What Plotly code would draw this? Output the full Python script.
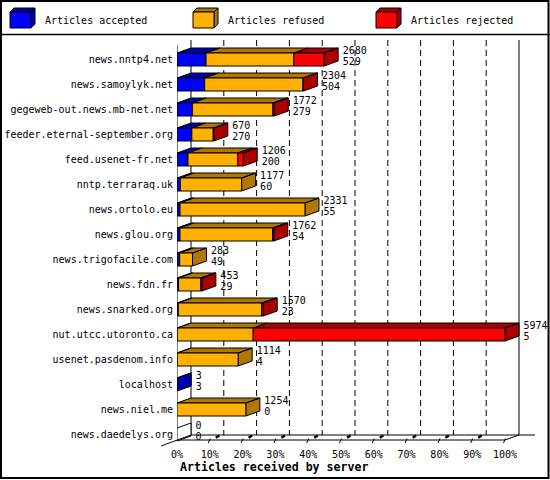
import plotly.graph_objects as go

# ---------------- data ----------------
servers = ["news.nntp4.net", "news.samoylyk.net", "gegeweb-out.news.mb-net.net",
           "feeder.eternal-september.org", "feed.usenet-fr.net", "nntp.terraraq.uk",
           "news.ortolo.eu", "news.glou.org", "news.trigofacile.com", "news.fdn.fr",
           "news.snarked.org", "nut.utcc.utoronto.ca", "usenet.pasdenom.info",
           "localhost", "news.niel.me", "news.daedelys.org"]
accepted = [529, 504, 279, 270, 200, 60, 55, 54, 49, 29, 23, 5, 4, 3, 0, 0]
refused = [1600, 1790, 1468, 390, 906, 1117, 2276, 1688, 234, 404, 1522, 1382, 1110, 0, 1254, 0]
rejected = [551, 10, 25, 10, 100, 0, 0, 20, 0, 20, 25, 4587, 0, 0, 0, 0]
x_ticks = [0, 10, 20, 30, 40, 50, 60, 70, 80, 90, 100]
x_tick_labels = ["0%", "10%", "20%", "30%", "40%", "50%", "60%", "70%", "80%", "90%", "100%"]
legend_names = ["Articles accepted", "Articles refused", "Articles rejected"]
axis_title = "Articles received by server"

# ---------------- style ----------------
FRONT = ["#0000FF", "#FFB000", "#FF0000"]
DARK = ["#0000AA", "#B07800", "#AA0000"]
FONT = "DejaVu Sans Mono"

W, H = 550, 480
PL, PR, PT, PB = 177, 540, 40, 447      # plot area in pixels
X_PER_PCT = 3.28                          # pixels per percent
ROW0, ROW_STEP = 59.5, 25.0               # pixel centre of first row, row spacing

def xd(p):   # pixel x -> data x
    return (p - PL) / X_PER_PCT

def yd(p):   # pixel y -> data y
    return (p - ROW0) / ROW_STEP

def pxp(p):  # pixel x -> paper
    return (p - PL) / (PR - PL)

def pyp(p):  # pixel y -> paper
    return (PB - p) / (PB - PT)

DX = 14 / X_PER_PCT
DY = -5 / ROW_STEP
HH = 6.5 / ROW_STEP
LABEL_GAP = 4.5 / X_PER_PCT

totals = [a + r + j for a, r, j in zip(accepted, refused, rejected)]
max_total = max(totals)

front_x = [[], [], []]
front_y = [[], [], []]
dark_x = [[], [], []]
dark_y = [[], [], []]
empty_x, empty_y = [], []
end_pos = []

def add_poly(xs, ys, px, py):
    xs.extend(px + [px[0], None])
    ys.extend(py + [py[0], None])

for i in range(len(servers)):
    vals = [accepted[i], refused[i], rejected[i]]
    p = 0.0
    last = None
    for k, v in enumerate(vals):
        if v <= 0:
            continue
        p1 = p + v / max_total * 100
        yt, yb = i - HH, i + HH
        add_poly(front_x[k], front_y[k], [p, p1, p1, p], [yt, yt, yb, yb])
        add_poly(dark_x[k], dark_y[k], [p, p1, p1 + DX, p + DX], [yt, yt, yt + DY, yt + DY])
        p = p1
        last = k
    yt, yb = i - HH, i + HH
    side_px = [p, p + DX, p + DX, p]
    side_py = [yt, yt + DY, yb + DY, yb]
    if last is None:
        add_poly(empty_x, empty_y, side_px, side_py)
    else:
        add_poly(dark_x[last], dark_y[last], side_px, side_py)
    end_pos.append(p + DX + LABEL_GAP)

fig = go.Figure()
for k in range(3):
    fig.add_trace(go.Scatter(x=dark_x[k], y=dark_y[k], mode="lines", fill="toself",
                             fillcolor=DARK[k], line=dict(color="black", width=1),
                             hoverinfo="skip", showlegend=False))
for k in range(3):
    fig.add_trace(go.Scatter(x=front_x[k], y=front_y[k], mode="lines", fill="toself",
                             fillcolor=FRONT[k], line=dict(color="black", width=1),
                             name=legend_names[k], hoverinfo="skip", showlegend=False))
fig.add_trace(go.Scatter(x=empty_x, y=empty_y, mode="lines", fill="toself",
                         fillcolor="white", line=dict(color="black", width=1),
                         hoverinfo="skip", showlegend=False))

# value labels (total on first line, accepted on second)
lab_font = dict(family=FONT, size=10, color="black")
fig.add_trace(go.Scatter(x=end_pos, y=[i - 0.34 for i in range(len(servers))],
                         mode="text", text=[str(t) for t in totals],
                         textposition="middle right", textfont=lab_font,
                         cliponaxis=False, hoverinfo="skip", showlegend=False))
fig.add_trace(go.Scatter(x=end_pos, y=[i + 0.1 for i in range(len(servers))],
                         mode="text", text=[str(a) for a in accepted],
                         textposition="middle right", textfont=lab_font,
                         cliponaxis=False, hoverinfo="skip", showlegend=False))

shapes = []
# back wall grid
for t in x_ticks:
    solid = t in (0, 100)
    shapes.append(dict(type="line", xref="x", yref="y", x0=t + DX, x1=t + DX,
                       y0=yd(40), y1=yd(435), layer="below",
                       line=dict(color="black", width=1, dash="solid" if solid else "6px,4px")))
# front-left edge
shapes.append(dict(type="line", xref="x", yref="y", x0=0, x1=0, y0=yd(45), y1=yd(440),
                   layer="below", line=dict(color="black", width=1)))
# floor
shapes.append(dict(type="line", xref="x", yref="y", x0=DX, x1=xd(535), y0=yd(435), y1=yd(435),
                   layer="below", line=dict(color="black", width=1)))
shapes.append(dict(type="line", xref="x", yref="y", x0=0, x1=100, y0=yd(440), y1=yd(440),
                   layer="below", line=dict(color="black", width=1)))
shapes.append(dict(type="line", xref="x", yref="y", x0=100, x1=100 + DX, y0=yd(440), y1=yd(435),
                   layer="below", line=dict(color="black", width=1)))
shapes.append(dict(type="line", xref="paper", yref="paper", x0=pxp(161), x1=pxp(191),
                   y0=pyp(446), y1=pyp(435), line=dict(color="black", width=1)))
# 3D tick marks
for t in x_ticks[1:]:
    shapes.append(dict(type="line", xref="x", yref="y", x0=t - 1.5 / X_PER_PCT, x1=t + 0.5 / X_PER_PCT,
                       y0=yd(443), y1=yd(438.5), line=dict(color="black", width=1)))
for t in x_ticks[1:-1]:
    shapes.append(dict(type="line", xref="x", yref="y", x0=t + 6 / X_PER_PCT, x1=t + 9.5 / X_PER_PCT,
                       y0=yd(437.8), y1=yd(435.5), line=dict(color="black", width=2.5)))

# outer border and legend separator
shapes.append(dict(type="rect", xref="paper", yref="paper", x0=pxp(1), x1=pxp(548.5),
                   y0=pyp(1), y1=pyp(478), line=dict(color="black", width=2)))
shapes.append(dict(type="line", xref="paper", yref="paper", x0=pxp(0), x1=pxp(550),
                   y0=pyp(34.5), y1=pyp(34.5), line=dict(color="black", width=1.5)))

def ppath(pts):
    return "M " + " L ".join(f"{pxp(a)},{pyp(b)}" for a, b in pts) + " Z"

annotations = []
for k, name in enumerate(legend_names):
    x0 = 10 + 183 * k
    shapes.append(dict(type="path", xref="paper", yref="paper",
                       path=ppath([(x0, 12), (x0 + 21, 12), (x0 + 25, 8), (x0 + 4, 8)]),
                       fillcolor=DARK[k], line=dict(color="black", width=1)))
    shapes.append(dict(type="path", xref="paper", yref="paper",
                       path=ppath([(x0 + 21, 12), (x0 + 25, 8), (x0 + 25, 24), (x0 + 21, 28)]),
                       fillcolor=DARK[k], line=dict(color="black", width=1)))
    shapes.append(dict(type="path", xref="paper", yref="paper",
                       path=ppath([(x0, 12), (x0 + 21, 12), (x0 + 21, 28), (x0, 28)]),
                       fillcolor=FRONT[k], line=dict(color="black", width=1)))
    annotations.append(dict(xref="paper", yref="paper", x=pxp(x0 + 33), y=pyp(20),
                            text=name, showarrow=False, xanchor="left", yanchor="middle",
                            font=dict(family=FONT, size=10, color="black")))

annotations.append(dict(xref="paper", yref="paper", x=pxp(274), y=pyp(467), text=axis_title,
                        showarrow=False, xanchor="center", yanchor="middle",
                        font=dict(family=FONT, size=11.6, color="black", weight="bold")))

fig.update_layout(
    width=W, height=H,
    margin=dict(l=PL, r=W - PR, t=PT, b=H - PB, pad=0, autoexpand=False),
    paper_bgcolor="white", plot_bgcolor="white",
    shapes=shapes, annotations=annotations,
    showlegend=False,
    xaxis=dict(range=[xd(PL), xd(PR)], tickvals=x_ticks, ticktext=x_tick_labels,
               ticks="", showgrid=False, zeroline=False, showline=False, automargin=False,
               tickfont=dict(family=FONT, size=10, color="black"), ticklabelstandoff=0,
               fixedrange=True),
    yaxis=dict(range=[yd(PB), yd(PT)], tickvals=list(range(len(servers))), ticktext=servers,
               ticks="", showgrid=False, zeroline=False, showline=False, automargin=False,
               tickfont=dict(family=FONT, size=10, color="black"), ticklabelstandoff=3,
               fixedrange=True),
)

fig.write_html("out.html", config={"displayModeBar": False},
               post_script="document.body.style.margin='0';document.body.style.padding='0';")
